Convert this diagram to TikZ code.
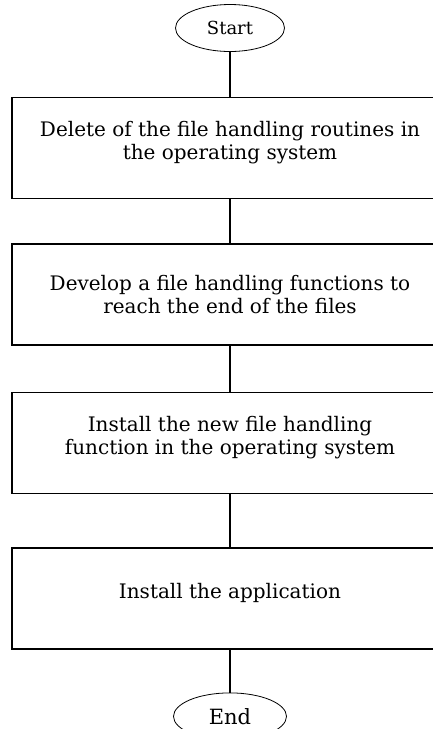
\documentclass[tikz,border=0pt]{standalone}
\usepackage{fontspec}
\setmainfont{DejaVu Serif}
\usetikzlibrary{positioning,shapes.geometric}
\begin{document}
\begin{tikzpicture}[auto]
	\tikzstyle{terminal} = [
		draw, thick, fill=white,
		ellipse, inner sep=0pt,
		minimum height=47pt, minimum width=109pt,
		font={\fontsize{18}{20}\selectfont}];
	\tikzstyle{process} = [
		draw, line width=1.4pt, fill=white,
		rectangle, align=center,
		minimum height=101pt, minimum width=436pt,
		font={\fontsize{20}{23}\selectfont}];
	\tikzstyle{raised} = [
		text depth=15pt];
	\tikzstyle{link} = [
		line width=1.4pt];

	\useasboundingbox (0,0) rectangle (432pt,-729pt);

	\node[terminal] (start) at (230pt,-28pt) {Start};
	\node[process, raised, below=45pt of start] (remove)
		{Delete of the file handling routines in\\the operating system};
	\node[process, below=44pt of remove] (develop)
		{Develop a file handling functions to\\reach the end of the files};
	\node[process, raised, below=46pt of develop] (setup)
		{Install the new file handling\\function in the operating system};
	\node[process, raised, below=53pt of setup] (app)
		{Install the application};
	\node[terminal, minimum width=113pt, font={\fontsize{21}{22}\selectfont},
		below=43pt of app] (end) {End};

	\draw[link] (start) to (remove);
	\draw[link] (remove) to (develop);
	\draw[link] (develop) to (setup);
	\draw[link] (setup) to (app);
	\draw[link] (app) to (end);
\end{tikzpicture}
\end{document}
